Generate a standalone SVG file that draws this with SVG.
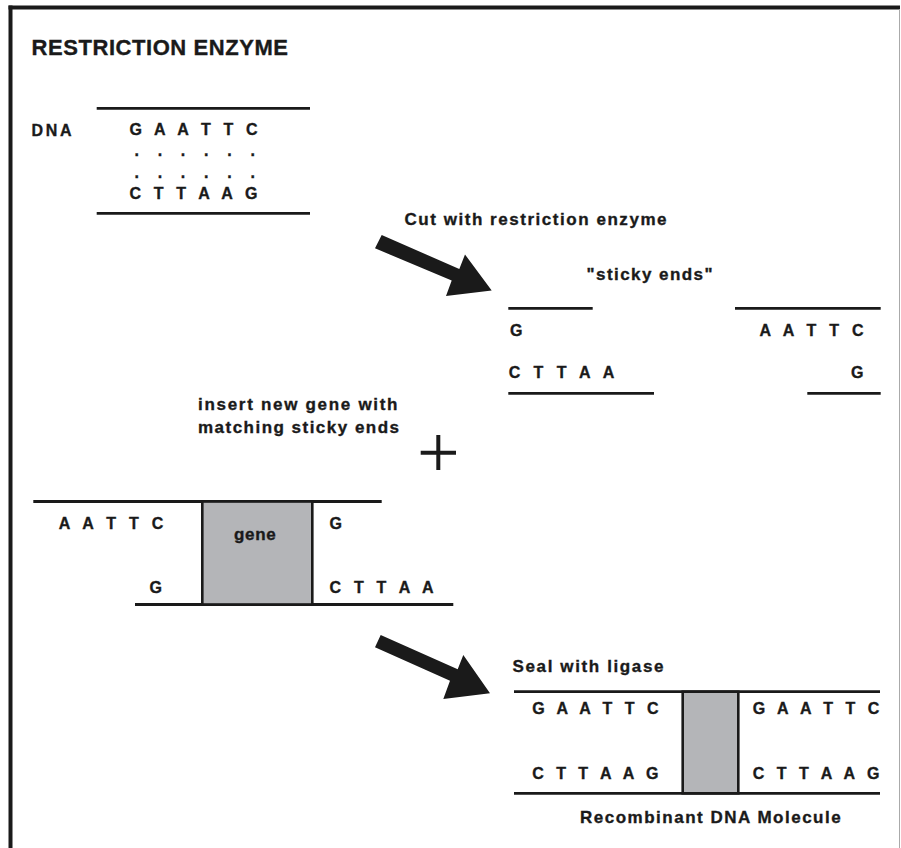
<svg xmlns="http://www.w3.org/2000/svg" width="901" height="848" viewBox="0 0 901 848">
<style>
  text { font-family: "Liberation Sans", Arial, sans-serif; font-weight: bold; fill: #1a1a1a; stroke: #1a1a1a; stroke-width: 0.35; }
  .t16 { font-size: 17px; }
  .t15 { font-size: 16px; }
  .strand { stroke: #1a1a1a; stroke-width: 2.8; fill: none; }
  .gene { fill: #b4b5b8; stroke: #1a1a1a; stroke-width: 2.6; }
  .arrow { fill: #1a1a1a; }
</style>
<rect x="0" y="0" width="901" height="848" fill="#ffffff"/>
<g id="frame">
  <line x1="8.5" y1="7.5" x2="900" y2="7.5" stroke="#1a1a1a" stroke-width="4"/>
  <line x1="10.5" y1="5.5" x2="10.5" y2="848" stroke="#1a1a1a" stroke-width="4"/>
  <line x1="899.5" y1="9" x2="899.5" y2="848" stroke="#aaaaaa" stroke-width="1"/>
</g>
<g id="title">
  <text x="31.5" y="55" style="font-size:22px" textLength="256.5" lengthAdjust="spacing">RESTRICTION ENZYME</text>
</g>
<g id="dna">
  <text x="31.5" y="136" style="font-size:16px" textLength="40" lengthAdjust="spacing">DNA</text>
  <line class="strand" x1="96.7" y1="108.3" x2="310" y2="108.3"/>
  <line class="strand" x1="96.7" y1="213.3" x2="310" y2="213.3"/>
  <text class="t15" x="129.5" y="135" textLength="128" lengthAdjust="spacing">G A A T T C</text>
  <text class="t15" x="134.4" y="155.8" textLength="120.6" lengthAdjust="spacing">. . . . . .</text>
  <text class="t15" x="134.4" y="177.8" textLength="120.6" lengthAdjust="spacing">. . . . . .</text>
  <text class="t15" x="129.5" y="199.3" textLength="128" lengthAdjust="spacing">C T T A A G</text>
</g>
<g id="connectors">
  <polygon id="arrow-cut" class="arrow" points="381.7,235 459.3,269 465,254.5 491.7,290.5 446,296 451.7,280.5 375,248.3"/>
  <polygon id="arrow-seal" class="arrow" points="380.7,635 457.7,669.3 463.3,655 490,693.3 443.3,699 450,680.7 375,647.3"/>
</g>
<g id="cut-label">
  <text class="t16" x="404.5" y="225" textLength="262" lengthAdjust="spacing">Cut with restriction enzyme</text>
</g>
<g id="sticky-ends">
  <text class="t16" x="586.5" y="280" textLength="126" lengthAdjust="spacing">"sticky ends"</text>
  <line class="strand" x1="508.3" y1="308.3" x2="592.7" y2="308.3"/>
  <line class="strand" x1="735" y1="308.3" x2="880.7" y2="308.3"/>
  <line class="strand" x1="508.3" y1="393.3" x2="654" y2="393.3"/>
  <line class="strand" x1="807.3" y1="393.3" x2="880.7" y2="393.3"/>
  <text class="t15" x="510" y="336">G</text>
  <text class="t15" x="759.5" y="336" textLength="104" lengthAdjust="spacing">A A T T C</text>
  <text class="t15" x="508.8" y="378.3" textLength="105.5" lengthAdjust="spacing">C T T A A</text>
  <text class="t15" x="851" y="378.3">G</text>
</g>
<g id="insert-label">
  <text class="t16" x="198" y="410" textLength="199.5" lengthAdjust="spacing">insert new gene with</text>
  <text class="t16" x="198" y="433.3" textLength="201" lengthAdjust="spacing">matching sticky ends</text>
  <line x1="420.7" y1="452.7" x2="456" y2="452.7" stroke="#1a1a1a" stroke-width="4"/>
  <line x1="438.3" y1="435" x2="438.3" y2="470" stroke="#1a1a1a" stroke-width="4"/>
</g>
<g id="new-gene">
  <line class="strand" x1="33.3" y1="501.5" x2="381.7" y2="501.5"/>
  <line class="strand" x1="135" y1="604.5" x2="453.3" y2="604.5"/>
  <rect class="gene" x="202.3" y="501.5" width="110" height="103"/>
  <text class="t15" x="58.8" y="529" textLength="104.5" lengthAdjust="spacing">A A T T C</text>
  <text class="t16" x="234" y="540" textLength="41.7" lengthAdjust="spacing">gene</text>
  <text class="t15" x="329.5" y="528.8">G</text>
  <text class="t15" x="149.5" y="593">G</text>
  <text class="t15" x="329.5" y="593" textLength="104" lengthAdjust="spacing">C T T A A</text>
</g>
<g id="recombinant">
  <text class="t16" x="512.5" y="671.7" textLength="151" lengthAdjust="spacing">Seal with ligase</text>
  <line class="strand" x1="514" y1="691.7" x2="880" y2="691.7"/>
  <line class="strand" x1="514" y1="793.3" x2="880" y2="793.3"/>
  <rect class="gene" x="682.7" y="691.7" width="55.6" height="101.6"/>
  <text class="t15" x="532.2" y="714" textLength="126.3" lengthAdjust="spacing">G A A T T C</text>
  <text class="t15" x="752.8" y="714" textLength="126.6" lengthAdjust="spacing">G A A T T C</text>
  <text class="t15" x="532.2" y="779.3" textLength="126.3" lengthAdjust="spacing">C T T A A G</text>
  <text class="t15" x="752.8" y="779.3" textLength="126.6" lengthAdjust="spacing">C T T A A G</text>
  <text class="t16" x="580" y="822.7" textLength="260.7" lengthAdjust="spacing">Recombinant DNA Molecule</text>
</g>
</svg>
